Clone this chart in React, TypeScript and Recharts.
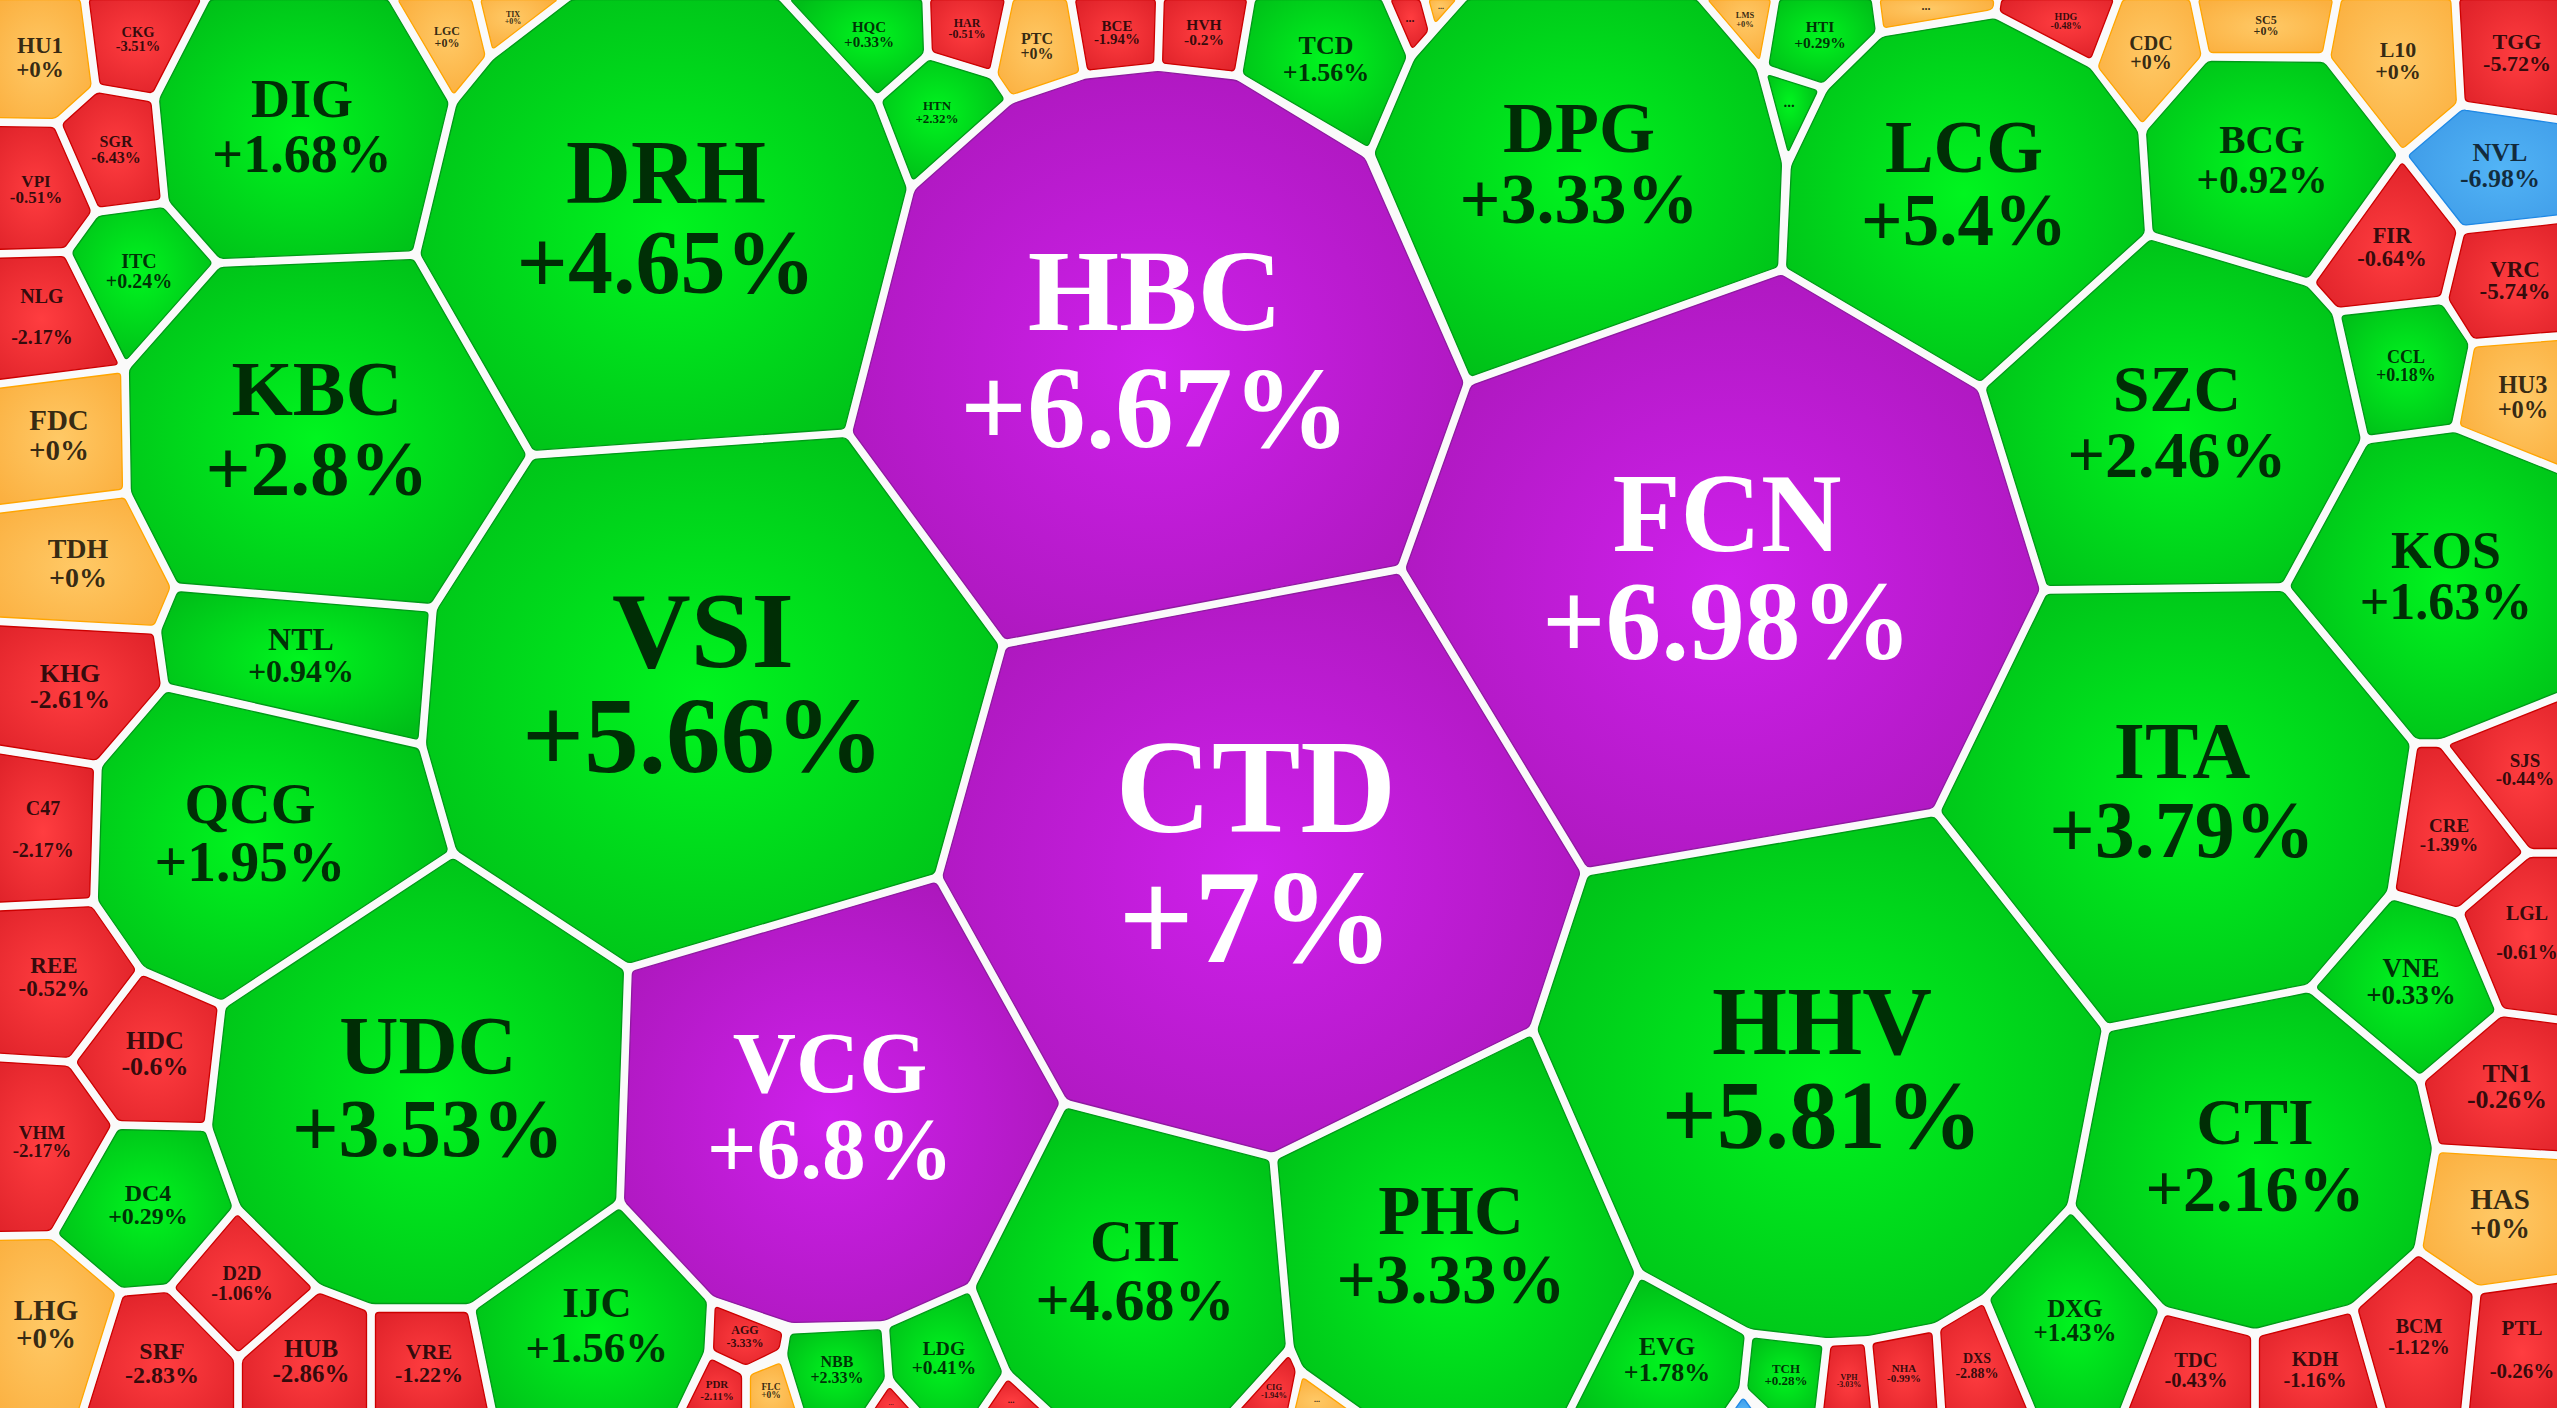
import React from 'react';
import { ScatterChart, Scatter, XAxis, YAxis } from 'recharts';

const WIDTH = 2557;
const HEIGHT = 1408;

const tickers = [
  'HU1','CKG','DIG','LGC','TIX','DRH','HQC','HTN','HAR','PTC','BCE','HVH','TCD','...','...','DPG','LMS','HTI','...','...',
  'HDG','CDC','SC5','L10','TGG','NVL','FIR','VRC','BCG','LCG','SZC','CCL','HU3','KOS','ITA','SJS','CRE','LGL','VNE','TN1',
  'HAS','PTL','BCM','KDH','TDC','DXG','DXS','NHA','VPH','TCH','','EVG','PHC','CTI','HHV','FCN','CTD','HBC','VSI','VCG',
  'CII','...','CIG','...','LDG','...','NBB','FLC','PDR','AGG','IJC','VRE','HUB','SRF','D2D','LHG','DC4','VHM','HDC','REE',
  'UDC','QCG','C47','KHG','NTL','TDH','FDC','KBC','NLG','ITC','VPI','SGR',
];

const changes = [
  0,-3.51,1.68,0,0,4.65,0.33,2.32,-0.51,0,-1.94,-0.2,1.56,-1,0,3.33,0,0.29,0.1,0,
  -0.48,0,0,0,-5.72,-6.98,-0.64,-5.74,0.92,5.4,2.46,0.18,0,1.63,3.79,-0.44,-1.39,-0.61,0.33,-0.26,
  0,-0.26,-1.12,-1.16,-0.43,1.43,-2.88,-0.99,-3.03,0.28,-6.98,1.78,3.33,2.16,5.81,6.98,7,6.67,5.66,6.8,
  4.68,0,-1.94,-1,0.41,-1,2.33,0,-2.11,-3.33,1.56,-1.22,-2.86,-2.83,-1.06,0,0.29,-2.17,-0.6,-0.52,
  3.53,1.95,-2.17,-2.61,0.94,0,0,2.8,-2.17,0.24,-0.51,-6.43,
];

// Cell outlines, in picture units: x,y,x,y,...
const outlines: number[][] = [
  [-10,-5,84,-5,96,88,57,123,-10,122], // HU1
  [84,-5,208,-5,155,98,96,88], // CKG
  [208,-5,390,-5,453,102,416,255,218,263,165,203,155,98], // DIG
  [390,-5,475,-5,490,57,453,102], // LGC
  [475,-5,571,-5,490,57], // TIX
  [453,102,490,57,571,-5,780,-5,877,100,911,188,848,433,531,455,416,255], // DRH
  [780,-5,926,-5,928,55,877,100], // HQC
  [877,100,928,55,993,75,1010,100,911,188], // HTN
  [926,-5,1010,-5,993,75,928,55], // HAR
  [1010,-5,1070,-5,1084,75,1010,100,993,75], // PTC
  [1070,-5,1160,-5,1158,67,1084,75], // BCE
  [1160,-5,1252,-5,1238,76,1158,67], // HVH
  [1252,-5,1384,-5,1411,57,1370,153,1238,76], // TCD
  [1384,-5,1423,-5,1433,32,1411,57], // red dots
  [1423,-5,1466,-5,1433,32], // orange dots
  [1466,-5,1698,-5,1760,67,1786,163,1782,270,1468,382,1370,153,1411,57,1433,32], // DPG
  [1698,-5,1776,-5,1762,70], // LMS
  [1776,-5,1875,-5,1880,33,1824,88,1764,68], // HTI
  [1761,68,1824,88,1787,165], // green dots
  [1875,-5,1998,-5,1998,8,1993,14,1880,33], // orange dots
  [1998,-5,2120,-5,2093,65,1995,14], // HDG
  [2120,-5,2193,-5,2206,57,2142,130,2093,68], // CDC
  [2193,-5,2338,-5,2326,57,2206,57], // SC5
  [2338,-5,2455,-5,2461,105,2402,155,2326,58], // L10
  [2455,-5,2570,-5,2570,121,2461,105], // TGG
  [2461,105,2570,121,2570,218,2461,230,2402,155], // NVL
  [2402,155,2461,230,2444,300,2336,312,2310,283], // FIR
  [2461,230,2570,218,2570,335,2471,343,2444,300], // VRC
  [2142,130,2206,57,2326,58,2402,155,2310,283,2149,235], // BCG
  [1824,88,1880,33,1995,14,2093,65,2142,130,2149,235,1981,387,1782,270,1787,165], // LCG
  [1981,387,2149,235,2310,283,2336,312,2365,440,2285,587,2044,590], // SZC
  [2336,312,2444,300,2473,343,2455,428,2365,440], // CCL
  [2471,343,2570,335,2570,474,2455,428], // HU3
  [2365,440,2455,428,2570,474,2570,692,2442,743,2414,743,2285,587], // KOS
  [2044,590,2285,587,2414,743,2391,893,2310,988,2106,1028,1936,812], // ITA
  [2442,743,2570,692,2570,853,2528,853], // SJS
  [2414,743,2442,743,2528,853,2459,912,2391,893], // CRE
  [2528,853,2570,853,2570,1021,2500,1012,2459,912], // LGL
  [2391,895,2459,915,2500,1012,2420,1080,2310,988], // VNE
  [2500,1012,2570,1021,2570,1156,2436,1148,2420,1080], // TN1
  [2436,1148,2570,1156,2570,1277,2477,1290,2418,1250], // HAS
  [2477,1290,2570,1277,2570,1420,2464,1420], // PTL
  [2353,1308,2418,1250,2477,1292,2464,1420,2385,1420], // BCM
  [2255,1333,2353,1308,2385,1420,2255,1420], // KDH
  [2163,1310,2255,1333,2255,1420,2120,1420], // TDC
  [1985,1298,2071,1207,2163,1310,2120,1420,2036,1420], // DXG
  [1936,1327,1985,1298,2036,1420,1942,1420], // DXS
  [1868,1340,1936,1327,1942,1420,1876,1420], // NHA
  [1827,1342,1868,1340,1876,1420,1818,1420], // VPH
  [1749,1333,1827,1342,1818,1420,1775,1420,1743,1390], // TCH
  [1743,1390,1765,1420,1722,1420], // blue
  [1639,1273,1749,1333,1743,1390,1722,1420,1565,1420], // EVG
  [1273,1157,1533,1030,1639,1273,1565,1420,1370,1420,1300,1370,1290,1348], // PHC
  [2106,1028,2310,988,2420,1080,2436,1148,2418,1250,2353,1308,2255,1333,2163,1310,2071,1207], // CTI
  [1936,812,2106,1028,2071,1207,1985,1298,1936,1327,1868,1340,1827,1342,1749,1333,1639,1273,1533,1030,1585,872], // HHV
  [1468,382,1782,270,1981,387,2044,590,1936,812,1585,872,1401,569], // FCN
  [1003,644,1401,569,1585,872,1533,1030,1273,1157,1064,1103,938,877], // CTD
  [911,188,1010,100,1084,75,1158,67,1238,76,1368,155,1468,382,1401,569,1003,644,848,433], // HBC
  [531,455,848,433,1003,644,938,877,628,968,453,853,422,745,433,608], // VSI
  [628,968,938,877,1064,1103,971,1287,885,1325,791,1327,711,1300,620,1203], // VCG
  [1064,1103,1273,1157,1290,1348,1225,1420,1058,1420,1007,1373,971,1287], // CII
  [1300,1370,1370,1420,1288,1420], // orange dots
  [1290,1348,1300,1370,1290,1420,1225,1420], // CIG
  [1007,1373,1058,1420,975,1420], // red dots
  [885,1325,971,1287,1007,1373,975,1420,925,1420,889,1380], // LDG
  [889,1380,925,1420,862,1420], // red dots
  [787,1330,885,1325,889,1380,862,1420,803,1420,783,1355], // NBB
  [746,1372,783,1357,803,1420,746,1420], // FLC
  [709,1353,746,1372,746,1420,676,1420], // PDR
  [711,1300,787,1330,783,1352,746,1370,709,1353], // AGG
  [471,1308,620,1203,711,1300,708,1353,676,1420,494,1420], // IJC
  [371,1308,471,1308,494,1420,371,1420], // VRE
  [238,1358,318,1288,371,1308,371,1420,238,1420], // HUB
  [120,1292,169,1288,238,1358,238,1420,80,1420], // SRF
  [237,1208,318,1288,238,1358,169,1288], // D2D
  [-10,1236,53,1235,120,1292,80,1420,-10,1420], // LHG
  [116,1125,208,1127,237,1208,169,1288,120,1292,53,1235], // DC4
  [-10,1057,71,1062,116,1125,53,1235,-10,1236], // VHM
  [141,970,222,1005,208,1127,116,1125,71,1062], // HDC
  [-10,907,94,902,141,970,71,1062,-10,1057], // REE
  [222,1005,453,853,628,968,620,1203,471,1308,371,1308,318,1288,237,1208,208,1127], // UDC
  [165,687,422,745,453,853,222,1005,141,970,94,902,98,765], // QCG
  [-10,748,98,765,94,902,-10,907], // C47
  [-10,621,157,630,165,687,98,765,-10,748], // KHG
  [175,587,433,608,422,745,165,687,157,630], // NTL
  [-10,510,127,493,175,587,157,630,-10,621], // TDH
  [-10,385,125,368,127,493,-10,510], // FDC
  [218,263,416,255,531,455,433,608,175,587,127,493,125,368], // KBC
  [-10,254,67,252,125,368,-10,385], // NLG
  [96,212,165,203,218,263,125,368,67,252], // ITC
  [-10,122,57,123,96,212,67,252,-10,254], // VPI
  [57,123,96,88,155,98,165,203,96,212], // SGR
];

// Label layout: centre x, name baseline, value baseline, font px
const labelLayout: number[][] = [
  [40,53,77,23],[138,37,51,14.5],[302,117,172,54],[447,35,47,12],[513,17,24,8],[666,203,293,90],[869,32,47,15],[937,110,123,13],
  [967,27,38,12],[1037,44,59,16],[1117,31,44,15],[1204,30,45,15.5],[1326,54,81,26],[1410,22,0,12],[1441,9,0,8],[1579,152,223,72],
  [1745,18,27,8.5],[1820,32,48,15.5],[1789,107,0,15],[1926,10,0,12],[2066,20,29,10],[2151,50,69,20],[2266,24,35,12],[2398,57,79,22],
  [2517,49,71,22],[2500,161,187,26],[2392,243,266,22.5],[2515,277,299,23],[2262,153,193,39.5],[1964,172,245,73],[2177,411,477,66],[2406,363,381,18],
  [2523,393,418,24.5],[2446,568,619,52],[2182,778,857,80],[2525,767,785,19],[2449,832,851,19],[2527,920,959,20],[2411,977,1004,27],[2507,1082,1108,26],
  [2500,1209,1238,29],[2522,1335,1378,21],[2419,1333,1354,20],[2315,1366,1387,20.5],[2196,1367,1387,20.5],[2075,1317,1341,25],[1977,1363,1378,14],[1904,1372,1382,11],
  [1849,1380,1387,8],[1786,1373,1385,13],[1744,1410,0,8],[1667,1355,1381,26],[1451,1234,1303,69],[2255,1144,1211,66],[1822,1054,1148,96.5],[1727,551,659,111.5],
  [1256,832,962,133],[1155,330,447,117.5],[703,667,772,109],[830,1092,1178,87.5],[1135,1261,1320,60],[1317,1402,0,8],[1274,1390,1398,8.5],[1011,1403,0,9],
  [944,1355,1374,19.5],[891,1405,0,7],[837,1367,1383,16],[771,1390,1398,9.5],[717,1388,1400,11],[745,1334,1347,12],[597,1317,1362,43],[429,1359,1382,22],
  [311,1357,1382,25],[162,1359,1383,24],[242,1280,1300,20],[46,1320,1348,29],[148,1201,1224,24],[42,1139,1157,19],[155,1049,1075,26],[54,973,996,23],
  [428,1073,1156,82],[250,823,881,57.5],[43,815,857,20],[70,682,708,26],[301,650,682,32],[78,558,587,28],[59,430,460,29],[317,415,495,79],
  [42,303,344,20],[139,268,288,20],[36,187,203,17],[116,147,163,16],
];

const styleOf = (v: number) => {
  if (v >= 6.5) return { inner: '#cf20ec', outer: '#a917b8', edge: '#8f1aa0', ink: '#ffffff', alpha: 1 };
  if (v <= -6.9) return { inner: '#52b4f6', outer: '#3f9ce8', edge: '#1e88e5', ink: '#000000', alpha: 0.75 };
  if (v > 0) return { inner: '#00f51f', outer: '#00bd18', edge: '#009a18', ink: '#000000', alpha: 0.8 };
  if (v < 0) return { inner: '#ff3d40', outer: '#e0232a', edge: '#cc0000', ink: '#000000', alpha: 0.8 };
  return { inner: '#ffc966', outer: '#fbb040', edge: '#ffa500', ink: '#000000', alpha: 0.8 };
};

const inflate = (flat: number[]) => {
  const out: { x: number; y: number }[] = [];
  for (let i = 0; i < flat.length; i += 2) out.push({ x: flat[i], y: flat[i + 1] });
  return out;
};
const vertexData = outlines.map(inflate);

const fmt = (v: number) => `${v >= 0 ? '+' : ''}${v}%`;
const nameLabels = tickers
  .map((t, i) => ({ text: t, x: labelLayout[i][0], y: labelLayout[i][1], size: labelLayout[i][3], value: changes[i] }))
  .filter((d) => d.text !== '');
const valueLabels = tickers
  .map((t, i) => ({ text: fmt(changes[i]), x: labelLayout[i][0], y: labelLayout[i][2], size: labelLayout[i][3], value: changes[i], t }))
  .filter((d) => d.t !== '' && d.t !== '...');

type P = { x: number; y: number };
const GAP = 4.5;
const ROUND = 3.5;

function insetPolygon(pts: P[], d: number): P[] {
  let area = 0;
  pts.forEach((p, i) => {
    const q = pts[(i + 1) % pts.length];
    area += p.x * q.y - q.x * p.y;
  });
  const sign = area > 0 ? 1 : -1;
  const xs = pts.map((p) => p.x);
  const ys = pts.map((p) => p.y);
  let poly: P[] = [
    { x: Math.min(...xs), y: Math.min(...ys) },
    { x: Math.max(...xs), y: Math.min(...ys) },
    { x: Math.max(...xs), y: Math.max(...ys) },
    { x: Math.min(...xs), y: Math.max(...ys) },
  ];
  pts.forEach((p, i) => {
    const q = pts[(i + 1) % pts.length];
    const len = Math.hypot(q.x - p.x, q.y - p.y) || 1;
    const nx = (-(q.y - p.y) / len) * sign;
    const ny = ((q.x - p.x) / len) * sign;
    const f = (a: P) => (a.x - p.x) * nx + (a.y - p.y) * ny - d;
    const next: P[] = [];
    poly.forEach((a, k) => {
      const b = poly[(k + 1) % poly.length];
      const fa = f(a);
      const fb = f(b);
      if (fa >= 0) next.push(a);
      if (fa >= 0 !== fb >= 0) {
        const t = fa / (fa - fb);
        next.push({ x: a.x + (b.x - a.x) * t, y: a.y + (b.y - a.y) * t });
      }
    });
    poly = next;
  });
  return poly;
}

function roundedPath(pts: P[]): string {
  const n = pts.length;
  if (n < 3) return '';
  let d = '';
  pts.forEach((p, i) => {
    const a = pts[(i - 1 + n) % n];
    const b = pts[(i + 1) % n];
    const la = Math.hypot(a.x - p.x, a.y - p.y) || 1;
    const lb = Math.hypot(b.x - p.x, b.y - p.y) || 1;
    const ra = Math.min(ROUND, la / 2);
    const rb = Math.min(ROUND, lb / 2);
    const s = { x: p.x + ((a.x - p.x) / la) * ra, y: p.y + ((a.y - p.y) / la) * ra };
    const e = { x: p.x + ((b.x - p.x) / lb) * rb, y: p.y + ((b.y - p.y) / lb) * rb };
    d += `${i === 0 ? 'M' : 'L'}${s.x.toFixed(1)} ${s.y.toFixed(1)}Q${p.x.toFixed(1)} ${p.y.toFixed(1)} ${e.x.toFixed(1)} ${e.y.toFixed(1)}`;
  });
  return d + 'Z';
}

const renderCell = (index: number) => (props: any) => {
  const st = styleOf(changes[index]);
  const pts: P[] = (props.points as any[]).map((p) => ({ x: p.x, y: p.y }));
  const xs = pts.map((p) => p.x);
  const ys = pts.map((p) => p.y);
  const minX = Math.min(...xs);
  const maxX = Math.max(...xs);
  const minY = Math.min(...ys);
  const maxY = Math.max(...ys);
  const [lx, y1, y2, size] = labelLayout[index];
  const midY = (y2 > 0 ? (y1 + y2) / 2 : y1) - size * 0.2;
  const fx = Math.min(1, Math.max(0, (lx - minX) / (maxX - minX || 1)));
  const fy = Math.min(1, Math.max(0, (midY - minY) / (maxY - minY || 1)));
  const id = `cell-grad-${index}`;
  return (
    <g key={id}>
      <defs>
        <radialGradient id={id} cx={fx} cy={fy} r={0.64} gradientUnits="objectBoundingBox">
          <stop offset="0%" stopColor={st.inner} />
          <stop offset="100%" stopColor={st.outer} />
        </radialGradient>
      </defs>
      <path d={roundedPath(insetPolygon(pts, GAP))} fill={`url(#${id})`} stroke={st.edge} strokeWidth={1.3} strokeLinejoin="round" />
    </g>
  );
};

const hiddenPoint = () => <g />;

const renderLabel = (props: any) => {
  const d = props.payload;
  const st = styleOf(d.value);
  return (
    <text
      x={props.cx}
      y={props.cy}
      textAnchor="middle"
      fontFamily="'Liberation Serif', 'Times New Roman', serif"
      fontWeight="bold"
      fontSize={d.size}
      fill={st.ink}
      fillOpacity={st.alpha}
    >
      {d.text}
    </text>
  );
};

export default function App() {
  return (
    <div style={{ position: 'absolute', left: 0, top: 0, width: WIDTH, height: HEIGHT, overflow: 'hidden', background: '#fafafa' }}>
      <ScatterChart width={WIDTH} height={HEIGHT} margin={{ top: 0, right: 0, bottom: 0, left: 0 }}>
        <XAxis type="number" dataKey="x" domain={[0, WIDTH]} hide allowDataOverflow />
        <YAxis type="number" dataKey="y" domain={[0, HEIGHT]} reversed hide allowDataOverflow />
        {vertexData.map((verts, i) => (
          <Scatter
            key={`${tickers[i]}-${i}`}
            data={verts}
            line={renderCell(i)}
            shape={hiddenPoint}
            isAnimationActive={false}
          />
        ))}
        <Scatter data={nameLabels} shape={renderLabel} isAnimationActive={false} />
        <Scatter data={valueLabels} shape={renderLabel} isAnimationActive={false} />
      </ScatterChart>
    </div>
  );
}
